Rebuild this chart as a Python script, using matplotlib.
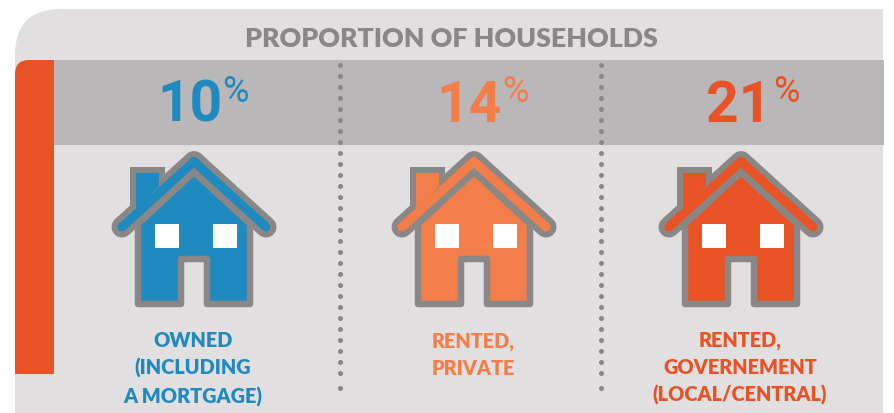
import matplotlib
matplotlib.use('Agg')
import matplotlib.pyplot as plt
from matplotlib.patches import Polygon, Rectangle, PathPatch
from matplotlib.path import Path
import numpy as np

title = 'PROPORTION OF HOUSEHOLDS'
values = [10, 14, 21]
labels = ['OWNED\n(INCLUDING\nA MORTGAGE)', 'RENTED,\nPRIVATE', 'RENTED,\nGOVERNEMENT\n(LOCAL/CENTRAL)']
colors = ['#1f8ac0', '#f37e4a', '#e95224']
centers = [194, 474, 741]
number_x = [190, 469, 739]
percent_x = [235, 515, 786]
label_y = [369, 355, 368]
dividers = [340, 601]

GREY = '#8a8886'
PANEL = '#e1dfe0'
BAND = '#b9b7b7'
PX = 72 / 100  # points per pixel at dpi 100

plt.rcParams['font.family'] = ['Lato', 'DejaVu Sans']


def draw_house(ax, cx, color):
    """House icon, offsets are pixels from the centre line."""
    chimney_out = [(-64, 72), (-64, 27), (-29, 27), (-29, 60)]
    ax.add_patch(Polygon([(cx + x, 140 + y) for x, y in chimney_out], fc=GREY, ec='none', zorder=3))

    body = [(-56, 84), (0, 32), (56, 84), (56, 164), (13, 164), (13, 119), (-13, 119), (-13, 164), (-56, 164)]
    ax.add_patch(Polygon([(cx + x, 140 + y) for x, y in body], closed=True, fc=color, ec=GREY,
                         lw=6.5 * PX, joinstyle='round', zorder=4))

    roof_x = [cx - 72, cx, cx + 72]
    roof_y = [227, 161.5, 227]
    ax.plot(roof_x, roof_y, color=GREY, lw=21 * PX, solid_capstyle='round', solid_joinstyle='round', zorder=5)

    chimney_in = [(-58, 68), (-58, 33), (-35, 33), (-35, 46), (-50, 62)]
    ax.add_patch(Polygon([(cx + x, 140 + y) for x, y in chimney_in], fc=color, ec='none', zorder=6))
    ax.plot(roof_x, roof_y, color=color, lw=9 * PX, solid_capstyle='round', solid_joinstyle='round', zorder=6)

    for wx in (cx - 39, cx + 19):
        ax.add_patch(Rectangle((wx, 224), 24, 24, fc='white', ec='none', zorder=7))


fig = plt.figure(figsize=(8.95, 4.13), dpi=100, facecolor='white')
ax = fig.add_axes([0, 0, 1, 1])
ax.set_xlim(0, 895)
ax.set_ylim(413, 0)
ax.axis('off')

# panel with rounded top-left corner
r = 46
verts = [(15, 413), (15, 9 + r), (15, 9), (15 + r, 9), (883, 9), (883, 413), (15, 413)]
codes = [Path.MOVETO, Path.LINETO, Path.CURVE3, Path.CURVE3, Path.LINETO, Path.LINETO, Path.CLOSEPOLY]
ax.add_patch(PathPatch(Path(verts, codes), fc=PANEL, ec='none', zorder=1))

ax.add_patch(Rectangle((54, 60), 830, 85, fc=BAND, ec='none', zorder=2))

# orange strip, rounded at the top left
r = 14
verts = [(15, 374), (15, 60 + r), (15, 60), (15 + r, 60), (54, 60), (54, 374), (15, 374)]
ax.add_patch(PathPatch(Path(verts, codes), fc=colors[2], ec='none', zorder=2))

ax.text(451, 39, title, ha='center', va='center', fontsize=19.3, fontweight='heavy', color=GREY, zorder=8)

for i, val in enumerate(values):
    col = colors[i]
    ax.text(number_x[i], 106, str(val), ha='center', va='center', fontsize=41,
            fontweight='bold', family='Roboto', color=col, zorder=8)
    ax.text(percent_x[i], 92.5, '%', ha='center', va='center', fontsize=26, family='Roboto', color=col, zorder=8)
    draw_house(ax, centers[i], col)
    ax.text(centers[i] - 1, label_y[i], labels[i], ha='center', va='center', fontsize=14.3,
            fontweight='heavy', color=col, linespacing=1.5, zorder=8)

for dx in dividers:
    dots_y = np.append(np.arange(65, 375, 11), 388)
    ax.plot(np.full(len(dots_y), dx), dots_y, ls='none', marker='o', ms=5 * PX,
            color=GREY, mec='none', zorder=8)

fig.savefig('out.png', dpi=100, facecolor='white')
